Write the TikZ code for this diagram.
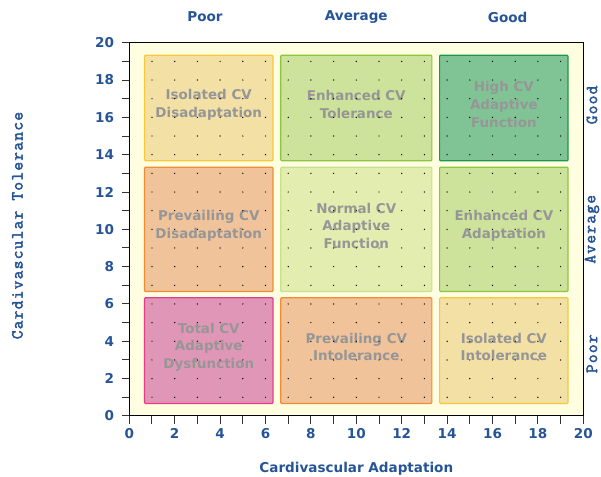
\documentclass[tikz,border=0pt]{standalone}
\usepackage{fontspec}
\setmainfont{DejaVu Sans}
\newfontfamily\monofont{Latin Modern Mono}[FakeBold=2.5,LetterSpace=7.5]
\usetikzlibrary{calc}

\definecolor{axisblue}{RGB}{38,84,150}
\definecolor{plotbg}{RGB}{255,254,224}
\definecolor{celltextgray}{RGB}{150,150,150}
\definecolor{tanfill}{RGB}{242,224,165}
\definecolor{tanedge}{RGB}{247,200,60}
\definecolor{greenfill}{RGB}{205,226,155}
\definecolor{greenedge}{RGB}{140,198,63}
\definecolor{darkfill}{RGB}{128,196,150}
\definecolor{darkedge}{RGB}{30,150,80}
\definecolor{orangefill}{RGB}{240,195,155}
\definecolor{orangeedge}{RGB}{240,140,50}
\definecolor{palefill}{RGB}{228,237,176}
\definecolor{paleedge}{RGB}{200,225,140}
\definecolor{pinkfill}{RGB}{224,150,182}
\definecolor{pinkedge}{RGB}{230,60,140}

\begin{document}
\begin{tikzpicture}[x=22.7bp,y=18.66bp,
    cell/.style={line width=1.2bp,rounded corners=1bp},
    celltext/.style={text=celltextgray,font=\bfseries\fontsize{13.5}{17.7}\selectfont,align=center,yshift=3.5bp},
    ticklabel/.style={text=axisblue,font=\bfseries\fontsize{13.6}{16}\selectfont,inner sep=0pt},
    toplabel/.style={text=axisblue,font=\bfseries\fontsize{13.6}{16}\selectfont},
    sidelabel/.style={text=axisblue,font=\monofont\fontsize{17}{20}\selectfont,rotate=90}]
            \useasboundingbox (-5.696,-3.269) rectangle (20.78,22.29);
            \fill[plotbg] (0,0) rectangle (20,20);

            \draw[cell,draw=tanedge,fill=tanfill] (0.67,13.67) rectangle (6.33,19.33);
            \draw[cell,draw=greenedge,fill=greenfill] (6.67,13.67) rectangle (13.33,19.33);
            \draw[cell,draw=darkedge,fill=darkfill] (13.67,13.67) rectangle (19.33,19.33);
            \draw[cell,draw=orangeedge,fill=orangefill] (0.67,6.67) rectangle (6.33,13.33);
            \draw[cell,draw=paleedge,fill=palefill] (6.67,6.67) rectangle (13.33,13.33);
            \draw[cell,draw=greenedge,fill=greenfill] (13.67,6.67) rectangle (19.33,13.33);
            \draw[cell,draw=pinkedge,fill=pinkfill] (0.67,0.67) rectangle (6.33,6.33);
            \draw[cell,draw=orangeedge,fill=orangefill] (6.67,0.67) rectangle (13.33,6.33);
            \draw[cell,draw=tanedge,fill=tanfill] (13.67,0.67) rectangle (19.33,6.33);

            \node[celltext] (isodis) at (3.5,16.5) {Isolated CV\\Disadaptation};
            \node[celltext] (enhtol) at (10,16.5) {Enhanced CV\\Tolerance};
            \node[celltext] (highfun) at (16.5,16.5) {High CV\\Adaptive\\Function};
            \node[celltext] (predis) at (3.5,10) {Prevailing CV\\Disadaptation};
            \node[celltext] (normfun) at (10,10) {Normal CV\\Adaptive\\Function};
            \node[celltext] (enhada) at (16.5,10) {Enhanced CV\\Adaptation};
            \node[celltext] (totdys) at (3.5,3.5) {Total CV\\Adaptive\\Dysfunction};
            \node[celltext] (preint) at (10,3.5) {Prevailing CV\\Intolerance};
            \node[celltext] (isoint) at (16.5,3.5) {Isolated CV\\Intolerance};

            \foreach \i in {1,...,19}{
                \foreach \j in {1,...,19}{
                    \fill (\i,\j) circle (0.7bp);
                }
            }

            \draw[line width=1bp] (0,0) rectangle (20,20);
            \foreach \i in {0,...,20}{
                \draw[line width=1bp,black!80] (\i,0) -- ++(0,-8bp);
                \draw[line width=1bp,black!80] (0,\i) -- ++(-7.6bp,0);
            }
            \foreach \i in {0,2,...,20}{
                \node[ticklabel] (xtick\i) at (\i,0) [yshift=-18bp] {\i};
                \node[ticklabel,anchor=east] (ytick\i) at (0,\i) [xshift=-15bp] {\i};
            }

            \node[toplabel] (toppoor) at (10/3,21.38) {Poor};
            \node[toplabel] (topavg) at (10,21.38) {Average};
            \node[toplabel] (topgood) at (50/3,21.38) {Good};
            \node[sidelabel] (sidepoor) at (20.38,10/3) {Poor};
            \node[sidelabel] (sideavg) at (20.38,10) {Average};
            \node[sidelabel] (sidegood) at (20.38,50/3) {Good};
            \node[sidelabel] (ylabel) at (-4.93,10.2) {Cardivascular Tolerance};
            \node[toplabel] (xlabel) at (10,-2.84) {Cardivascular Adaptation};
        \end{tikzpicture}
\end{document}
